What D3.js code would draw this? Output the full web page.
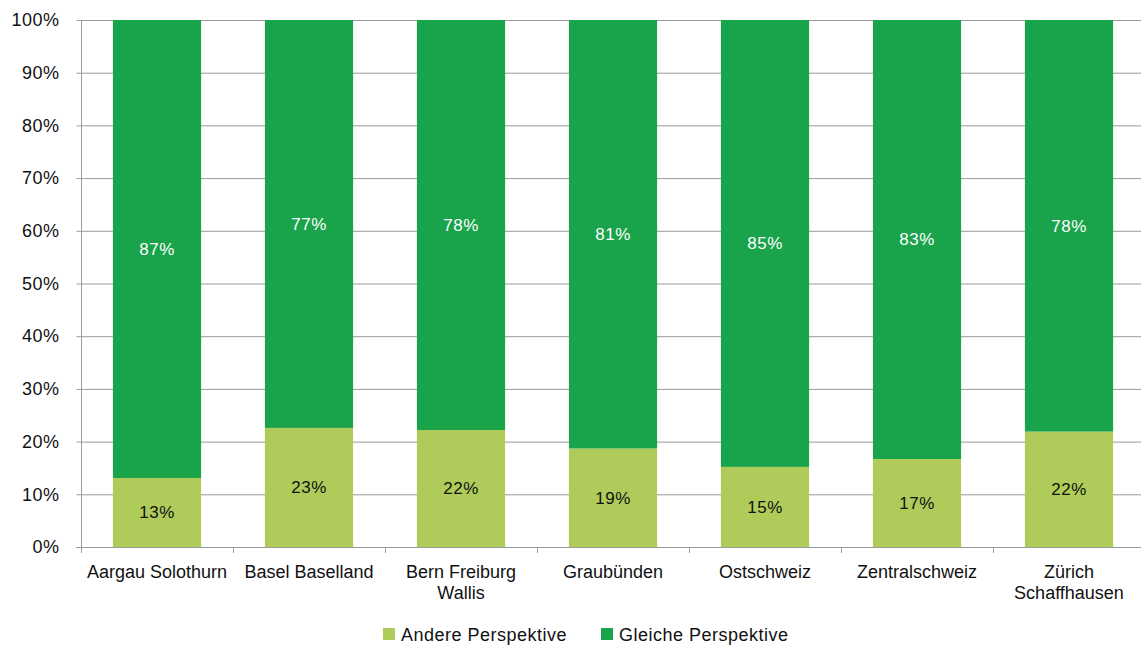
<!DOCTYPE html>
<html><head><meta charset="utf-8">
<script src="https://cdn.jsdelivr.net/npm/d3@7"></script>
<style>body{margin:0;background:#fff;}svg{display:block;font-family:"Liberation Sans",Arial,sans-serif;}</style>
</head><body>
<svg id="c" width="1141" height="646"></svg>
<script>
const categories = ["Aargau Solothurn","Basel Baselland","Bern Freiburg Wallis","Graubünden","Ostschweiz","Zentralschweiz","Zürich Schaffhausen"];
const categoryLines = [["Aargau Solothurn"],["Basel Baselland"],["Bern Freiburg","Wallis"],["Graubünden"],["Ostschweiz"],["Zentralschweiz"],["Zürich","Schaffhausen"]];
const andere = [13.1, 22.6, 22.2, 18.7, 15.2, 16.7, 21.9];
const gleiche = [86.9, 77.4, 77.8, 81.3, 84.8, 83.3, 78.1];
const seriesNames = ["Andere Perspektive","Gleiche Perspektive"];
const colors = ["#AFCB5A","#19A34A"];
const yTicks = [0,10,20,30,40,50,60,70,80,90,100];

(function(){
const svg = d3.select("#c");
const mL = 81, mT = 20, mB = 547, mR = 1145;
const x = d3.scaleBand().domain(categories).range([mL, mR]).paddingInner(0.42).paddingOuter(0.21);
const y = d3.scaleLinear().domain([0,100]).range([mB, mT]);
const step = x.step();

// gridlines
svg.append("g").selectAll("line").data(yTicks.filter(d=>d>0)).join("line")
  .attr("x1", mL).attr("x2", 1141).attr("y1", d=>y(d)+0.5).attr("y2", d=>y(d)+0.5)
  .attr("stroke", "#9a9a9a").attr("stroke-width", 1);

// bars
const stackData = categories.map((c,i)=>({cat:c, a:andere[i], g:gleiche[i]}));
const stack = d3.stack().keys(["a","g"])(stackData);
stack.forEach((layer, li) => {
  svg.append("g").selectAll("rect").data(layer).join("rect")
    .attr("x", d=>x(d.data.cat)).attr("width", x.bandwidth())
    .attr("y", d=>y(d[1])).attr("height", d=>y(d[0])-y(d[1]))
    .attr("fill", colors[li]);
  svg.append("g").selectAll("text").data(layer).join("text")
    .attr("x", d=>x(d.data.cat)+x.bandwidth()/2)
    .attr("y", d=>(y(d[0])+y(d[1]))/2)
    .attr("dy", "0.35em").attr("text-anchor","middle")
    .attr("font-size", 17).attr("letter-spacing", 0.5).attr("fill", li===0 ? "#111" : "#fff")
    .text(d=>Math.round(d[1]-d[0]) + "%");
});

// y axis
const yAxis = d3.axisLeft(y).tickValues(yTicks).tickFormat(d=>d+"%").tickSize(5).tickPadding(17);
const gy = svg.append("g").attr("transform", `translate(${mL+0.5},0)`).call(yAxis);
gy.select(".domain").attr("stroke","#9a9a9a").attr("d", `M0,${mT}V${mB}`);
gy.selectAll(".tick line").attr("stroke","#9a9a9a");
gy.selectAll(".tick text").attr("font-size", 18).attr("letter-spacing", 0.5).attr("fill","#111").attr("font-family","Liberation Sans, Arial, sans-serif");

// x axis line
svg.append("line").attr("x1", mL-5).attr("x2", 1141).attr("y1", mB+0.5).attr("y2", mB+0.5).attr("stroke","#9a9a9a");
// category boundary ticks
svg.append("g").selectAll("line").data(d3.range(categories.length+1)).join("line")
  .attr("x1", i=>mL + i*step + 0.5).attr("x2", i=>mL + i*step + 0.5)
  .attr("y1", mB).attr("y2", mB+6).attr("stroke","#9a9a9a");

// category labels
const cl = svg.append("g").selectAll("text").data(categories).join("text")
  .attr("text-anchor","middle").attr("font-size", 18).attr("fill","#111");
cl.each(function(c,i){
  const t = d3.select(this);
  categoryLines[i].forEach((ln,j)=>{
    t.append("tspan").attr("x", x(c)+x.bandwidth()/2).attr("y", 578 + j*21).text(ln);
  });
});

// legend
const legendX = [383, 601];
const lg = svg.append("g");
seriesNames.forEach((n,i)=>{
  lg.append("rect").attr("x", legendX[i]).attr("y", 628).attr("width", 12).attr("height", 12).attr("fill", colors[i]);
  lg.append("text").attr("x", legendX[i]+18).attr("y", 641).attr("font-size", 18).attr("letter-spacing", 0.5).attr("fill","#111").text(n);
});
})();
</script>
</body></html>
